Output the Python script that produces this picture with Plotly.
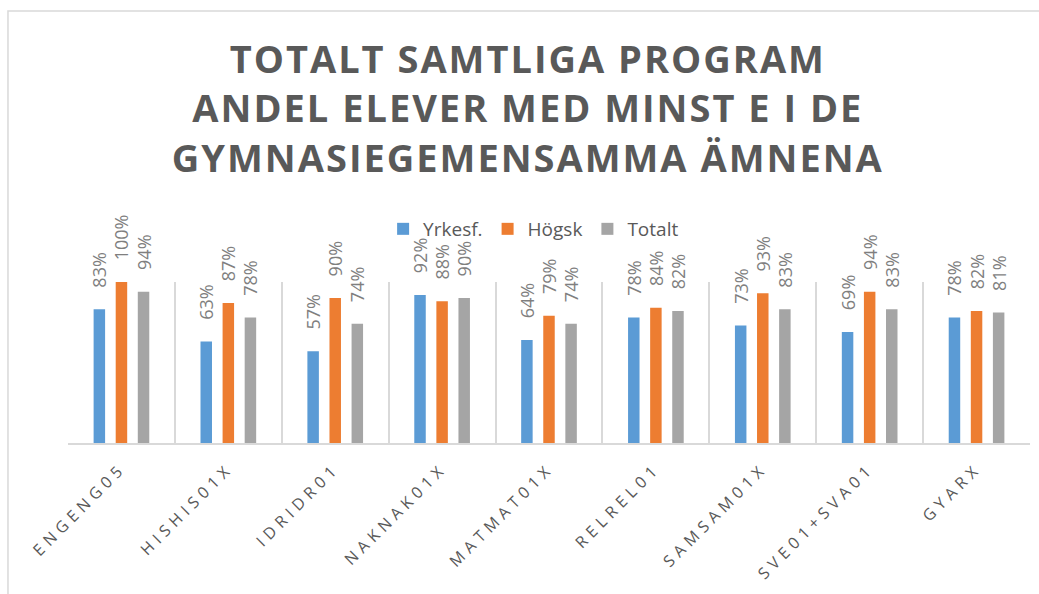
import plotly.graph_objects as go

categories = ["ENGENG05", "HISHIS01X", "IDRIDR01", "NAKNAK01X", "MATMAT01X",
              "RELREL01", "SAMSAM01X", "SVE01+SVA01", "GYARX"]
yrkesf = [0.83, 0.63, 0.57, 0.92, 0.64, 0.78, 0.73, 0.69, 0.78]
hogsk = [1.00, 0.87, 0.90, 0.88, 0.79, 0.84, 0.93, 0.94, 0.82]
totalt = [0.94, 0.78, 0.74, 0.90, 0.74, 0.82, 0.83, 0.83, 0.81]

series = [("Yrkesf.", yrkesf, "#5B9BD5"),
          ("Högsk", hogsk, "#ED7D31"),
          ("Totalt", totalt, "#A5A5A5")]

fig = go.Figure()
for name, vals, color in series:
    fig.add_trace(go.Bar(
        x=categories, y=vals, name=name, marker_color=color,
        marker_line_width=0,
        texttemplate="\u00a0\u00a0\u00a0\u00a0%{y:.0%}", textposition="outside",
        textangle=-90, constraintext="none", cliponaxis=False,
        textfont=dict(family="Open Sans", size=18, color="#7F7F7F"),
        outsidetextfont=dict(family="Open Sans", size=18, color="#7F7F7F"),
    ))

fig.update_layout(
    width=1039, height=594,
    paper_bgcolor="white", plot_bgcolor="white",
    margin=dict(l=68, r=9, t=282, b=151),
    barmode="group", bargap=0.38, bargroupgap=0.48,
    title=dict(
        text="TOTALT SAMTLIGA PROGRAM<br>ANDEL ELEVER MED MINST E I DE<br>GYMNASIEGEMENSAMMA ÄMNENA",
        x=0.508, xanchor="center", y=0.877, yanchor="top", yref="container",
        font=dict(family="Open Sans", size=38, color="#595959", weight=700),
    ),
    legend=dict(
        orientation="h", x=0.484, xanchor="center", y=0.6145, yanchor="middle",
        yref="container", bgcolor="rgba(0,0,0,0)",
        font=dict(family="Open Sans", size=19, color="#595959"),
        itemclick=False,
    ),
    showlegend=True,
    shapes=[dict(type="rect", xref="paper", yref="paper",
                 x0=-0.0624, x1=1.02, y0=-1.1, y1=2.683,
                 line=dict(color="#D9D9D9", width=1.5), layer="below")],
)
fig.update_xaxes(
    tickson="boundaries", showgrid=True, gridcolor="#D9D9D9", gridwidth=1.5,
    ticks="", showline=True, linecolor="#D9D9D9", linewidth=1.5,
    tickangle=-45, ticklabelstandoff=8,
    tickfont=dict(family="Open Sans", size=16, color="#595959"),
)
fig.update_yaxes(range=[0, 1.0], visible=False, showgrid=False, zeroline=False)

post = """
document.body.style.margin = '0';
var gd = document.getElementById('{plot_id}');
gd.querySelectorAll('.gtitle').forEach(function(e){e.style.letterSpacing='2px';});
gd.querySelectorAll('.xtick text').forEach(function(e){e.style.letterSpacing='5px';});
"""
fig.write_html("out.html", post_script=post, config={"displayModeBar": False})
